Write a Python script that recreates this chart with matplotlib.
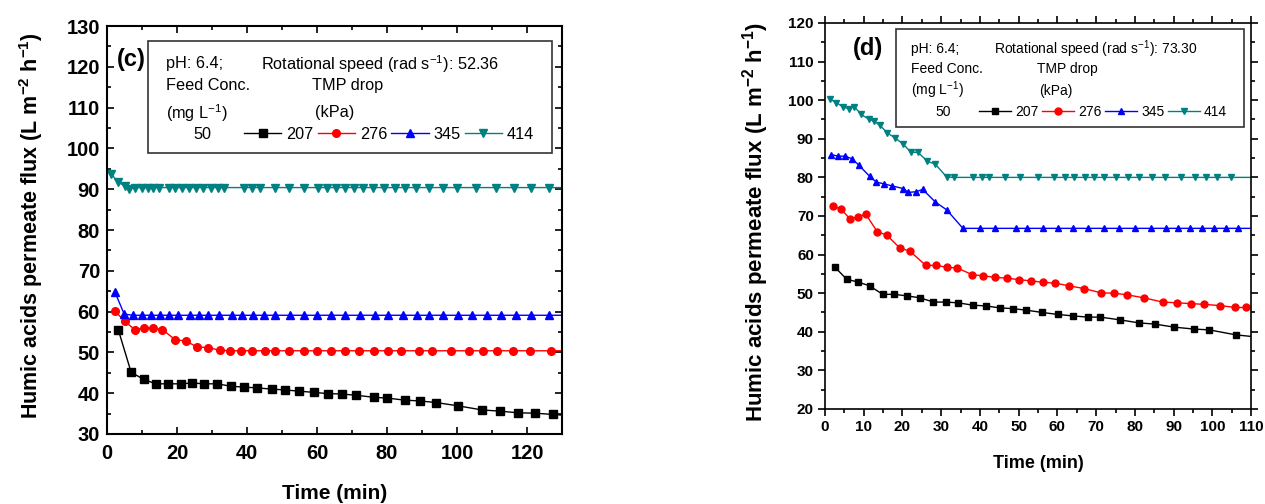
import numpy as np
import matplotlib
matplotlib.use("Agg")
import matplotlib.pyplot as plt
from matplotlib.patches import Rectangle

plt.rcParams['font.family'] = ['Liberation Sans Narrow', 'Liberation Sans', 'DejaVu Sans']
plt.rcParams['mathtext.fontset'] = 'custom'
plt.rcParams['mathtext.rm'] = 'Liberation Sans Narrow'
plt.rcParams['mathtext.bf'] = 'Liberation Sans:bold'
plt.rcParams['mathtext.default'] = 'regular'

tmp_labels = ["207", "276", "345", "414"]
colors = ["black", "red", "blue", "#008080"]
markers = ["s", "o", "^", "v"]

# panel (c), 52.36 rad/s
c_t207 = [3.2, 6.9, 10.5, 13.9, 17.3, 21.0, 24.4, 27.8, 31.4, 35.5, 39.0, 42.9, 47.1, 50.8, 54.9, 59.0,
          63.1, 67.0, 71.1, 76.2, 80.1, 85.0, 89.4, 94.1, 100.3, 107.1, 112.3, 117.3, 122.2, 127.3, 132]
c_f207 = [55.6, 45.1, 43.4, 42.3, 42.3, 42.3, 42.5, 42.3, 42.3, 41.7, 41.5, 41.3, 41.0, 40.8, 40.5, 40.2,
          39.9, 39.8, 39.5, 39.0, 38.8, 38.3, 38.1, 37.7, 36.9, 35.9, 35.6, 35.2, 35.1, 34.8, 34.5]
c_t276 = [2.3, 5.1, 7.9, 10.5, 13.1, 15.8, 19.5, 22.5, 25.8, 28.9, 32.2, 35.1, 38.2, 41.3, 45.0, 48.1, 52.1,
          56.2, 60.0, 64.1, 68.1, 72.0, 76.2, 80.2, 84.1, 89.2, 92.9, 98.2, 103.4, 107.3, 111.5, 115.9,
          120.9, 126.9, 132]
c_f276 = [60.1, 57.6, 55.6, 56.0, 56.0, 55.6, 53.1, 52.8, 51.3, 51.2, 50.5] + [50.4] * 24
c_t345 = [2.3, 4.9, 7.4, 10.0, 12.6, 15.2, 17.7, 20.3, 23.6, 26.2, 28.9, 31.9, 35.6, 38.6, 41.7, 44.9, 48.1,
          52.2, 56.2, 60.0, 64.0, 68.1, 72.4, 76.6, 80.4, 84.6, 88.5, 92.1, 96.1, 100.3, 104.4, 108.6,
          112.6, 116.8, 121.1, 126.3, 132]
c_f345 = [64.7, 59.4] + [59.1] * 35
c_t414 = [1.2, 3.1, 5.2, 6.4, 8.1, 9.9, 11.7, 13.2, 14.9, 17.7, 19.5, 21.3, 23.3, 25.4, 27.5, 29.6, 31.8,
          33.4, 39.1, 41.4, 43.7, 48.0, 52.1, 56.2, 60.2, 62.9, 65.5, 68.1, 70.6, 73.1, 76.1, 79.2, 82.2,
          85.2, 88.2, 91.9, 96.0, 100.1, 105.3, 111.2, 116.4, 121.1, 126.3, 132]
c_f414 = [93.8, 91.7, 90.8, 90.0] + [90.4] * 40

# panel (d), 73.30 rad/s
d_t207 = [2.5, 5.6, 8.5, 11.5, 14.9, 17.9, 21.2, 24.5, 28.0, 31.2, 34.4, 38.1, 41.5, 45.1, 48.5, 52.0,
          56.1, 60.1, 64.1, 68.0, 71.1, 76.1, 81.1, 85.1, 90.2, 95.3, 99.2, 106.1, 112]
d_f207 = [56.8, 53.6, 52.9, 51.9, 49.7, 49.7, 49.3, 48.8, 47.7, 47.7, 47.5, 46.9, 46.7, 46.2, 46.0, 45.6,
          45.0, 44.5, 44.1, 43.8, 43.8, 43.1, 42.3, 42.0, 41.2, 40.7, 40.5, 39.2, 38.6]
d_t276 = [2.0, 4.1, 6.4, 8.5, 10.5, 13.5, 15.9, 19.3, 21.9, 26.0, 28.6, 31.6, 34.2, 38.0, 40.9, 43.9, 47.0,
          50.1, 53.2, 56.4, 59.5, 63.0, 66.9, 71.2, 74.5, 77.9, 82.3, 87.2, 90.9, 94.5, 97.9, 101.9,
          105.9, 108.8, 112]
d_f276 = [72.6, 71.8, 69.3, 69.7, 70.5, 65.9, 65.1, 61.7, 60.9, 57.2, 57.2, 56.7, 56.5, 54.8, 54.5, 54.1,
          53.9, 53.5, 53.2, 52.8, 52.6, 51.9, 51.2, 50.1, 50.0, 49.6, 48.8, 47.7, 47.5, 47.3, 47.1, 46.8,
          46.3, 46.3, 46.3]
d_t345 = [1.6, 3.4, 5.2, 7.0, 8.8, 11.5, 13.2, 15.3, 17.3, 20.2, 21.5, 23.6, 25.2, 28.5, 31.4, 35.6, 40.1,
          44.0, 49.2, 52.2, 56.4, 60.1, 64.1, 67.9, 72.1, 75.8, 80.0, 84.1, 88.0, 91.2, 94.2, 97.3, 100.3,
          103.4, 106.5, 112]
d_f345 = [85.9, 85.5, 85.5, 84.8, 83.1, 80.3, 78.8, 78.3, 77.8, 77.1, 76.1, 76.3, 76.9, 73.6, 71.6] + [66.8] * 21
d_t414 = [1.2, 2.9, 4.7, 6.2, 7.6, 9.3, 11.3, 12.7, 14.2, 16.1, 18.1, 20.1, 22.2, 24.0, 26.4, 28.5, 31.4,
          33.3, 38.3, 40.4, 42.3, 46.5, 50.4, 55.0, 59.0, 62.0, 64.3, 67.0, 69.4, 72.0, 75.1, 78.1, 81.1,
          84.3, 87.8, 91.9, 95.4, 98.3, 101.3, 104.9, 112]
d_f414 = [100.3, 99.4, 98.2, 97.8, 98.3, 96.3, 95.1, 94.5, 93.5, 91.5, 90.2, 88.7, 86.5, 86.5, 84.2, 83.4,
          80.1] + [80.0] * 24

fig = plt.figure(figsize=(12.65, 5.04), dpi=100)

ylab = r"Humic acids permeate flux (L m$\mathbf{^{-2}}$ h$\mathbf{^{-1}}$)"


def panel(ax, series, speed, tag, xlim, ylim, xmaj, xmin, ymaj, ymin, st, pos, leg_x):
    for (t, f), c, m, lab in zip(series, colors, markers, tmp_labels):
        ax.plot(t, f, color=c, marker=m, ms=st['ms'], lw=1.0, label=lab)
    ax.set_xlim(*xlim)
    ax.set_ylim(*ylim)
    ax.set_xticks(np.arange(xlim[0], xlim[1] + 0.1, xmaj))
    ax.set_xticks(np.arange(xlim[0], xlim[1] + 0.1, xmin), minor=True)
    ax.set_yticks(np.arange(ylim[0], ylim[1] + 0.1, ymaj))
    ax.set_yticks(np.arange(ylim[0], ylim[1] + 0.1, ymin), minor=True)
    ax.tick_params(which='both', direction=st['dir'], top=True, right=True, width=1.2)
    ax.tick_params(which='major', length=st['maj'])
    ax.tick_params(which='minor', length=st['min'])
    ax.tick_params(axis='x', pad=st['xpad'])
    ax.tick_params(axis='y', pad=st['ypad'])
    for lbl in ax.get_xticklabels() + ax.get_yticklabels():
        lbl.set_fontfamily('Liberation Sans')
        lbl.set_fontweight('bold')
        lbl.set_fontsize(st['tick'])
    for s in ax.spines.values():
        s.set_linewidth(st['spine'])
    ax.set_xlabel("Time (min)", fontfamily='Liberation Sans', fontweight='bold', fontsize=st['xlab'],
                  va='center')
    ax.xaxis.set_label_coords(0.5, st['xlab_y'])
    ax.set_ylabel(ylab, fontfamily='Liberation Sans', fontweight='bold', fontsize=st['ylab'], va='center')
    ax.yaxis.set_label_coords(st['ylab_xy'][0], st['ylab_xy'][1])

    bx0, by0, bx1, by1 = pos['box']
    ax.add_patch(Rectangle((bx0, by0), bx1 - bx0, by1 - by0, transform=ax.transAxes,
                           fill=False, ec='#333333', lw=1.2, zorder=5))
    ax.text(*pos['tag'], tag, transform=ax.transAxes, ha='center', va='center',
            fontfamily='Liberation Sans', fontweight='bold', fontsize=17)
    kw = dict(transform=ax.transAxes, va='center', fontsize=st['txt'])
    ax.text(*pos['ph'], "pH: 6.4;", **kw)
    ax.text(*pos['rot'], "Rotational speed (rad s$^{-1}$): " + speed, **kw)
    ax.text(*pos['feed'], "Feed Conc.", **kw)
    ax.text(*pos['tmp'], "TMP drop", **kw)
    ax.text(*pos['mg'], "(mg L$^{-1}$)", **kw)
    ax.text(*pos['kpa'], "(kPa)", **kw)
    ax.text(*pos['c50'], "50", **kw)
    ax.legend(loc='center left', bbox_to_anchor=leg_x, ncol=4, frameon=False, fontsize=st['txt'],
              handlelength=2.3, handletextpad=0.3, columnspacing=0.25, borderpad=0, borderaxespad=0)


ax1 = fig.add_axes([0.0846, 0.1389, 0.3597, 0.8095])
panel(ax1, [(c_t207, c_f207), (c_t276, c_f276), (c_t345, c_f345), (c_t414, c_f414)], "52.36", "(c)",
      (0, 130), (30, 130), 20, 10, 10, 5,
      dict(ms=5.5, dir='in', maj=5, min=3, xpad=7, ypad=5, tick=14.5, spine=1.5, xlab=15,
           xlab_y=-0.145, ylab=15.5, ylab_xy=(-0.167, 0.51), txt=11.7),
      dict(box=(0.090, 0.689, 0.978, 0.963), tag=(0.053, 0.917), ph=(0.129, 0.907), rot=(0.338, 0.907),
           feed=(0.129, 0.853), tmp=(0.451, 0.853), mg=(0.129, 0.787), kpa=(0.457, 0.787),
           c50=(0.189, 0.735)),
      (0.301, 0.735))

ax2 = fig.add_axes([0.6522, 0.1885, 0.3368, 0.7659])
panel(ax2, [(d_t207, d_f207), (d_t276, d_f276), (d_t345, d_f345), (d_t414, d_f414)], "73.30", "(d)",
      (0, 110), (20, 120), 10, 5, 10, 5,
      dict(ms=5, dir='out', maj=5, min=3, xpad=3, ypad=3, tick=11, spine=1.2, xlab=13,
           xlab_y=-0.142, ylab=16, ylab_xy=(-0.162, 0.486), txt=10),
      dict(box=(0.167, 0.731, 0.984, 0.984), tag=(0.101, 0.933), ph=(0.202, 0.932), rot=(0.397, 0.932),
           feed=(0.202, 0.882), tmp=(0.498, 0.882), mg=(0.202, 0.825), kpa=(0.502, 0.825),
           c50=(0.258, 0.770)),
      (0.362, 0.770))

fig.savefig("out.png", dpi=100)
